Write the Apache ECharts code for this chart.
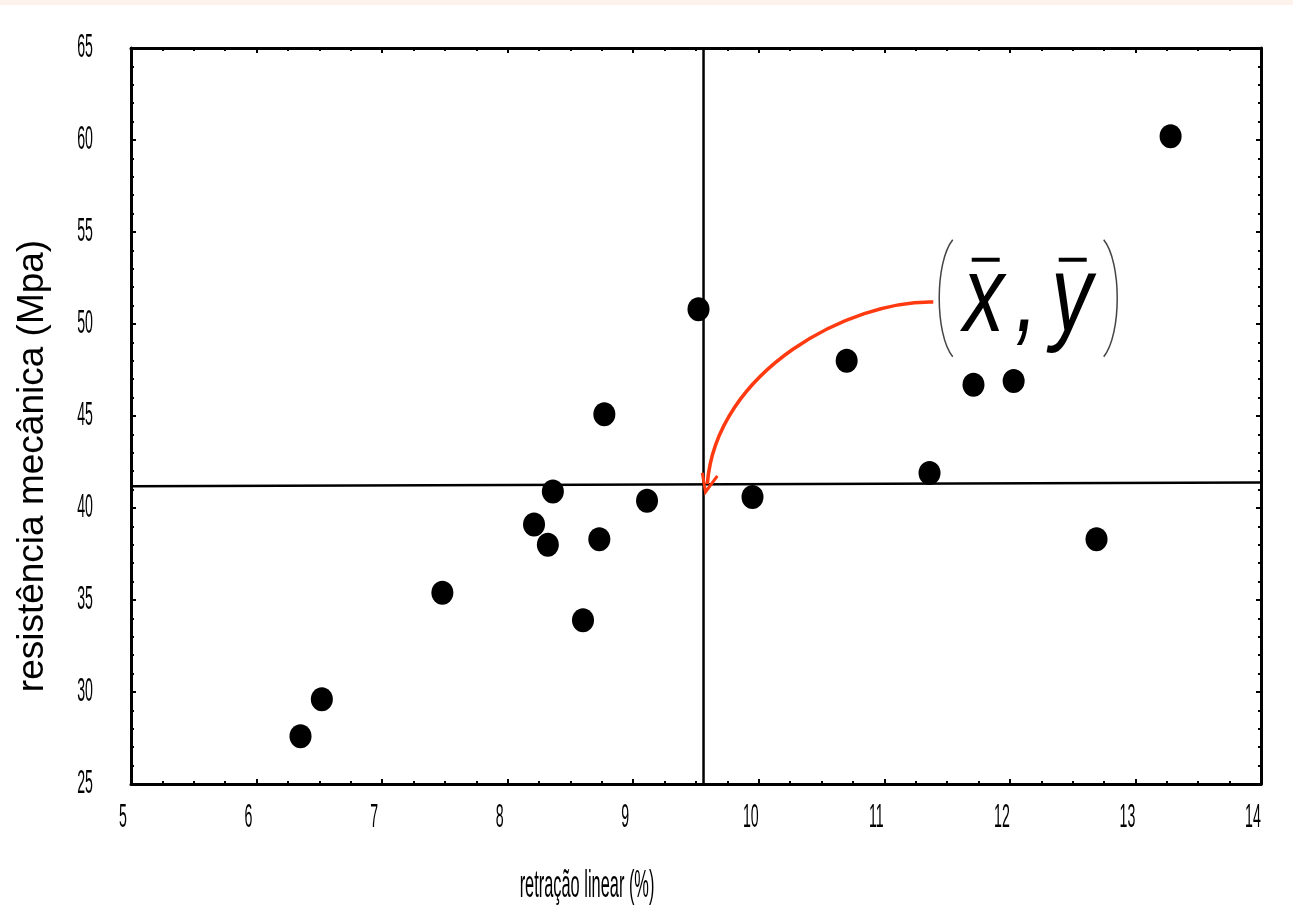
<!DOCTYPE html>
<html>
<head>
<meta charset="utf-8">
<title>retração x resistência</title>
<script src="https://cdn.jsdelivr.net/npm/echarts@6.0.0/dist/echarts.min.js"></script>
<style>
    html, body { margin: 0; padding: 0; background: #fff; }
    #show { width: 1293px; height: 922px; }
</style>
</head>
<body>
<div id="show"></div>
<script>
// dados
var retracao = [6.35, 6.52, 7.48, 8.21, 8.32, 8.36, 8.60, 8.73, 8.77, 9.11, 9.52, 9.95, 10.70, 11.36, 11.71, 12.03, 12.69, 13.28];
var resistencia = [27.6, 29.6, 35.4, 39.1, 38.0, 40.9, 33.9, 38.3, 45.1, 40.4, 50.8, 40.6, 48.0, 41.9, 46.7, 46.9, 38.3, 60.2];
var xTicks = [5, 6, 7, 8, 9, 10, 11, 12, 13, 14];
var yTicks = [25, 30, 35, 40, 45, 50, 55, 60, 65];
var mediaX = 9.56;
var linhaMediaY = [41.18, 41.39];   // linha horizontal, à esquerda e à direita
var pontoLegenda = [12.15, 51.4];   // centro do rótulo (x̄ , ȳ)
var seta = [[11.39, 51.2], [10.73, 51.3], [9.66, 47.5], [9.59, 41.3]];
var pontaSeta = [[9.55, 41.92], [9.576, 40.87], [9.67, 41.74]];

var myChart = echarts.init(document.getElementById('show'));

var fonteNum = "'Liberation Sans', Arial, sans-serif";

function eixoX(pos) {
    return {
        type: 'value', position: pos, min: 5, max: 14, interval: 1,
        axisLine: { show: true, onZero: false, lineStyle: { color: '#000', width: 3 } },
        axisTick: { show: true, inside: true, length: 5, lineStyle: { color: '#000', width: 2 } },
        minorTick: { show: true, splitNumber: 4, length: 3, lineStyle: { color: '#000', width: 2 } },
        axisLabel: { show: false },
        splitLine: { show: false }
    };
}
function eixoY(pos) {
    return {
        type: 'value', position: pos, min: 25, max: 65, interval: 5,
        axisLine: { show: true, onZero: false, lineStyle: { color: '#000', width: 3 } },
        axisTick: { show: true, inside: true, length: 5, lineStyle: { color: '#000', width: 2 } },
        minorTick: { show: true, splitNumber: 5, length: 3, lineStyle: { color: '#000', width: 2 } },
        axisLabel: { show: false },
        splitLine: { show: false }
    };
}

var pontos = [];
for (var i = 0; i < retracao.length; i++) {
    pontos.push([retracao[i], resistencia[i]]);
}

var option = {
    backgroundColor: '#fff',
    animation: false,
    grid: { left: 131, right: 32, top: 48, bottom: 138 },
    xAxis: [eixoX('bottom'), eixoX('top')],
    yAxis: [eixoY('left'), eixoY('right')],
    series: [
        {
            type: 'line', silent: true, symbol: 'none', z: 2,
            lineStyle: { color: '#000', width: 2.5 },
            data: [[mediaX, 25], [mediaX, 65]]
        },
        {
            type: 'line', silent: true, symbol: 'none', z: 2,
            lineStyle: { color: '#000', width: 2.5 },
            data: [[5, linhaMediaY[0]], [14, linhaMediaY[1]]]
        },
        {
            type: 'scatter', z: 5,
            symbol: 'circle', symbolSize: [22, 24],
            itemStyle: { color: '#000', opacity: 1 },
            data: pontos
        }
    ]
};
myChart.setOption(option);

// rótulos, títulos e anotação desenhados depois, em cima das escalas
var g = [];
g.push({ type: 'rect', shape: { x: 0, y: 0, width: 1293, height: 5 }, style: { fill: '#fdf2ec' }, silent: true });

for (var i = 0; i < xTicks.length; i++) {
    var px = myChart.convertToPixel({ xAxisIndex: 0 }, xTicks[i]);
    g.push({
        type: 'text', x: px - 8, y: 818, scaleX: 0.43,
        style: { text: String(xTicks[i]), font: '33px ' + fonteNum, fill: '#000', align: 'center', verticalAlign: 'middle' }
    });
}
for (var i = 0; i < yTicks.length; i++) {
    var py = myChart.convertToPixel({ yAxisIndex: 0 }, yTicks[i]);
    g.push({
        type: 'text', x: 93, y: py, scaleX: 0.43,
        style: { text: String(yTicks[i]), font: '33px ' + fonteNum, fill: '#000', align: 'right', verticalAlign: 'middle' }
    });
}
g.push({
    type: 'text', x: 587, y: 886, scaleX: 0.42,
    style: { text: 'retração linear (%)', font: '39px ' + fonteNum, fill: '#000', align: 'center', verticalAlign: 'middle' }
});
g.push({
    type: 'text', x: 33, y: 466, rotation: Math.PI / 2,
    style: { text: 'resistência mecânica (Mpa)', font: '37px ' + fonteNum, fill: '#000', align: 'center', verticalAlign: 'middle' }
});

// seta vermelha
var s = seta.map(function (p) { return myChart.convertToPixel({ xAxisIndex: 0, yAxisIndex: 0 }, p); });
var ps = pontaSeta.map(function (p) { return myChart.convertToPixel({ xAxisIndex: 0, yAxisIndex: 0 }, p); });
g.push({
    type: 'bezierCurve', silent: true, z: 10,
    shape: { x1: s[0][0], y1: s[0][1], cpx1: s[1][0], cpy1: s[1][1], cpx2: s[2][0], cpy2: s[2][1], x2: s[3][0], y2: s[3][1] },
    style: { stroke: '#ff3a10', lineWidth: 3.5, fill: null }
});
g.push({
    type: 'polyline', silent: true, z: 10,
    shape: { points: ps },
    style: { stroke: '#ff3a10', lineWidth: 3, fill: null }
});

// (x̄ , ȳ)
var c = myChart.convertToPixel({ xAxisIndex: 0, yAxisIndex: 0 }, pontoLegenda);
var fonteIt = 'italic 108px ' + fonteNum;
g.push({
    type: 'group', x: c[0], y: c[1], z: 10, silent: true,
    children: [
        { type: 'bezierCurve', shape: { x1: -76, y1: -58.5, cpx1: -94, cpy1: -36, cpx2: -94, cpy2: 36, x2: -76, y2: 58.5 }, style: { stroke: '#444', lineWidth: 1.5, fill: null } },
        { type: 'bezierCurve', shape: { x1: 75, y1: -58.5, cpx1: 93, cpy1: -36, cpx2: 93, cpy2: 36, x2: 75, y2: 58.5 }, style: { stroke: '#444', lineWidth: 1.5, fill: null } },
        { type: 'text', x: -45, y: 3, scaleX: 0.76, style: { text: 'x', font: fonteIt, fill: '#000', align: 'center', verticalAlign: 'middle' } },
        { type: 'text', x: -2, y: 3, scaleX: 0.76, style: { text: ',', font: fonteIt, fill: '#000', align: 'center', verticalAlign: 'middle' } },
        { type: 'text', x: 43, y: 3, scaleX: 0.76, style: { text: 'y', font: fonteIt, fill: '#000', align: 'center', verticalAlign: 'middle' } },
        { type: 'rect', shape: { x: -57, y: -40.5, width: 28, height: 4 }, style: { fill: '#000' } },
        { type: 'rect', shape: { x: 30, y: -40.5, width: 28, height: 4 }, style: { fill: '#000' } }
    ]
});

myChart.setOption({ graphic: g });
</script>
</body>
</html>
